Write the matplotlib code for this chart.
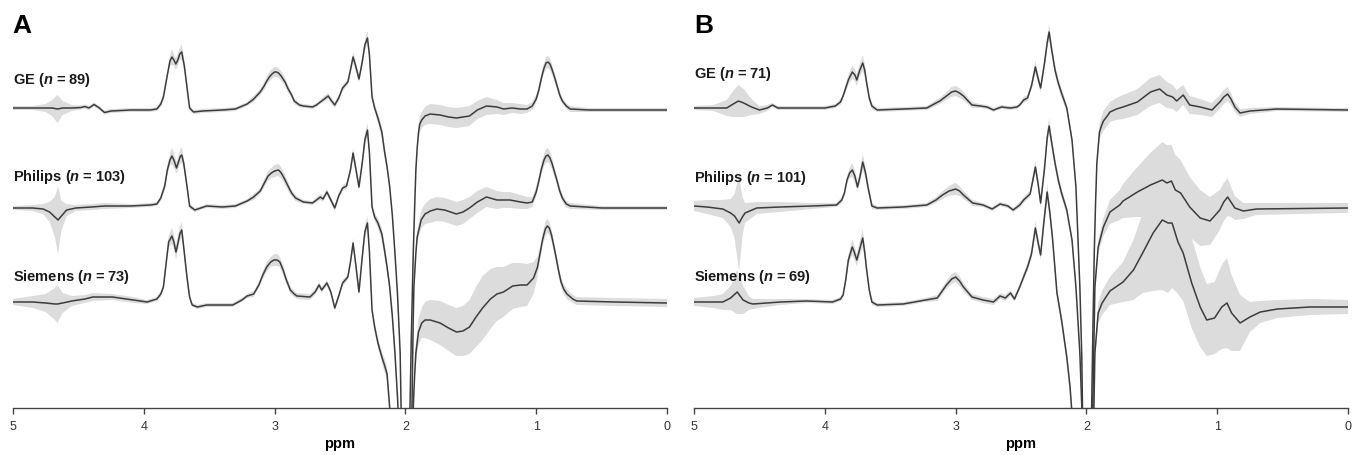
"""
Mean MR difference spectra (+/- SD band) per scanner vendor, two panels.

Values are in pixel-like units read off the reference figure: ppm on x,
signal height above each trace's own baseline on y, plus the SD half-width.
"""

import numpy as np
import matplotlib.pyplot as plt

plt.rcParams['font.family'] = ['Liberation Sans', 'DejaVu Sans']
plt.rcParams['mathtext.fontset'] = 'custom'
plt.rcParams['mathtext.it'] = 'Liberation Sans:italic:bold'
plt.rcParams['mathtext.rm'] = 'Liberation Sans:bold'


# ============================================================================
# DATA  (ppm, mean, sd)
# ============================================================================

GE_A = [
    (5.00, 1, 2), (4.85, 1, 2), (4.75, 1, 4), (4.70, 1, 8), (4.66, 0, 14), (4.62, 1, 7),
    (4.55, 1, 3), (4.48, 1.5, 2), (4.45, 2.5, 2), (4.42, 1, 2), (4.38, 4.5, 2), (4.34, 1, 2),
    (4.30, -3.5, 2), (4.25, -2, 2), (4.10, -1, 2), (3.95, -1, 2), (3.90, 0, 2), (3.87, 5, 3),
    (3.85, 12, 3), (3.82, 34, 4), (3.80, 48, 5), (3.785, 52, 8), (3.77, 49, 6), (3.755, 45, 6),
    (3.74, 49, 6), (3.725, 55, 6), (3.71, 57, 8), (3.69, 43, 5), (3.67, 22, 4), (3.65, 1, 3),
    (3.62, -3, 2), (3.55, -2, 2), (3.40, -1, 2), (3.30, 0, 2), (3.21, 5, 2), (3.16, 10, 3),
    (3.11, 17, 3), (3.08, 23, 4), (3.06, 28, 4), (3.04, 32, 5), (3.02, 35, 5), (3.00, 37, 5),
    (2.985, 37, 5), (2.97, 36, 5), (2.95, 33, 5),
    (2.92, 27, 4), (2.90, 21, 4), (2.87, 14, 3), (2.85, 8, 3), (2.81, 4, 2), (2.78, 3, 2),
    (2.71, 2, 2), (2.68, 4, 2), (2.65, 7, 2), (2.62, 10, 3), (2.59, 13, 3), (2.57, 9, 3),
    (2.54, 4, 3), (2.51, 11, 3), (2.48, 21, 3), (2.44, 27, 3), (2.42, 39, 4), (2.40, 52, 5),
    (2.38, 43, 5), (2.355, 30, 4), (2.33, 47, 5), (2.31, 64, 6), (2.29, 71, 6), (2.275, 54, 5),
    (2.255, 12, 4), (2.235, 1, 4), (2.21, -9, 5), (2.18, -23, 6), (2.16, -42, 6), (2.14, -58, 5),
    (2.12, -78, 4), (2.10, -106, 4), (2.08, -144, 4), (2.06, -186, 4), (2.04, -244, 4),
    (2.02, -400, 4), (2.00, -700, 4), (1.98, -400, 4), (1.965, -299, 4), (1.955, -230, 4),
    (1.94, -144, 4), (1.93, -101, 4), (1.92, -61, 5), (1.91, -39, 6), (1.90, -24, 7),
    (1.89, -15, 8), (1.875, -11, 8), (1.85, -7, 9), (1.81, -5, 10), (1.735, -6, 10),
    (1.67, -8, 10), (1.61, -9, 10), (1.56, -8, 10), (1.51, -7, 10), (1.45, -1, 9), (1.38, 3, 9),
    (1.30, 2, 7), (1.25, 0, 6), (1.185, 1, 5), (1.12, 0, 5), (1.07, 0, 4), (1.03, 3, 4),
    (1.00, 10, 4), (0.98, 19, 4), (0.96, 31, 5), (0.94, 41, 5), (0.925, 46, 6), (0.91, 47, 6),
    (0.895, 45, 6), (0.88, 40, 5), (0.86, 32, 5), (0.84, 23, 4), (0.82, 14, 4), (0.80, 8, 3),
    (0.77, 3, 3), (0.74, 0, 3), (0.60, -1, 2), (0.30, -1, 2), (0.00, -1, 2),
]

PHILIPS_A = [
    (5.00, 0, 2), (4.85, 0, 3), (4.77, -1, 5), (4.72, -4, 10), (4.68, -9, 20), (4.655, -12, 34),
    (4.63, -8, 15), (4.59, -2, 6), (4.52, 0, 3), (4.40, 1, 3), (4.30, 2, 3), (4.10, 2, 2),
    (3.95, 3, 2), (3.90, 4, 2), (3.87, 10, 3), (3.84, 22, 4), (3.82, 38, 5), (3.80, 48, 6),
    (3.785, 52, 8), (3.77, 48, 7), (3.75, 40, 6), (3.735, 46, 6), (3.72, 52, 7), (3.71, 53, 8),
    (3.695, 45, 6), (3.67, 22, 4), (3.65, 2, 3), (3.61, -2, 2), (3.52, 2, 2), (3.40, 1, 2),
    (3.30, 2, 2), (3.21, 7, 2), (3.16, 11, 3), (3.11, 17, 3), (3.09, 22, 4), (3.07, 27, 4),
    (3.05, 32, 5), (3.025, 35, 5), (3.00, 37, 6), (2.97, 38, 6), (2.955, 36, 6), (2.94, 33, 5),
    (2.92, 28, 5), (2.89, 20, 4), (2.87, 15, 3),
    (2.84, 10, 3), (2.78, 6, 2), (2.71, 5, 2), (2.65, 11, 3), (2.63, 9, 3), (2.60, 16, 3),
    (2.57, 8, 3), (2.54, 0, 3), (2.51, 12, 3), (2.48, 20, 3), (2.45, 22, 3), (2.42, 38, 4),
    (2.40, 55, 5), (2.38, 40, 5), (2.355, 21, 4), (2.33, 45, 5), (2.31, 68, 6), (2.29, 78, 7),
    (2.275, 55, 5), (2.255, 1, 4), (2.235, -9, 4), (2.21, -15, 5), (2.18, -26, 6), (2.16, -42, 7),
    (2.14, -59, 6), (2.12, -79, 5), (2.10, -108, 4), (2.08, -145, 4), (2.06, -190, 4),
    (2.04, -250, 4), (2.02, -400, 4), (2.00, -700, 4), (1.98, -400, 4), (1.96, -250, 4),
    (1.95, -200, 4), (1.94, -110, 4), (1.935, -79, 4), (1.92, -45, 5), (1.91, -29, 6),
    (1.89, -18, 8), (1.88, -12, 9), (1.85, -6, 10), (1.81, -3, 12), (1.76, -1, 12),
    (1.70, -2, 12), (1.61, -6, 12), (1.56, -4, 12), (1.51, 0, 11), (1.45, 6, 11), (1.38, 11, 10),
    (1.30, 8, 9), (1.25, 8, 8), (1.20, 8, 8), (1.12, 6, 7), (1.07, 5, 6), (1.03, 6, 5),
    (1.00, 16, 5), (0.98, 27, 5), (0.96, 39, 6), (0.94, 48, 6), (0.925, 52, 7), (0.91, 53, 7),
    (0.895, 50, 7), (0.88, 45, 6), (0.86, 36, 5), (0.84, 27, 5), (0.82, 17, 4), (0.80, 10, 4),
    (0.77, 4, 3), (0.74, 2, 3), (0.50, 0, 2), (0.00, 0, 2),
]

SIEMENS_A = [
    (5.00, 0, 3), (4.85, 0, 6), (4.75, -1, 9), (4.68, -2, 16), (4.66, -2, 19), (4.62, -1, 10),
    (4.55, 1, 5), (4.45, 3, 4), (4.39, 5, 4), (4.24, 5, 3), (4.08, 2, 3), (3.975, 0, 2),
    (3.90, 3, 2), (3.87, 8, 3), (3.85, 15, 3), (3.83, 38, 5), (3.81, 60, 6), (3.785, 66, 8),
    (3.77, 60, 7), (3.754, 50, 7), (3.74, 58, 7), (3.725, 68, 7), (3.71, 72, 8), (3.695, 55, 6),
    (3.67, 25, 4), (3.65, 5, 3), (3.63, -3, 2), (3.59, -5, 2), (3.52, -3, 2), (3.40, -3, 2),
    (3.32, -3, 2), (3.25, 2, 2), (3.21, 6, 2), (3.16, 8, 3), (3.12, 17, 3), (3.09, 27, 4),
    (3.06, 35, 5), (3.03, 40, 5), (3.005, 42, 6), (2.98, 42, 6), (2.96, 40, 5), (2.95, 37, 5),
    (2.935, 32, 5), (2.91, 22, 4),
    (2.88, 12, 4), (2.85, 8, 3), (2.83, 6, 3), (2.73, 5, 3), (2.69, 10, 3), (2.66, 17, 3),
    (2.64, 12, 3), (2.60, 19, 3), (2.57, 10, 3), (2.54, -6, 3), (2.51, 6, 3), (2.48, 19, 3),
    (2.44, 25, 3), (2.42, 40, 4), (2.40, 59, 5), (2.38, 38, 5), (2.355, 10, 4), (2.33, 45, 5),
    (2.31, 70, 6), (2.29, 79, 7), (2.275, 50, 5), (2.255, -8, 4), (2.235, -25, 4), (2.21, -41, 5),
    (2.18, -55, 6), (2.16, -63, 7), (2.14, -72, 7), (2.12, -106, 6), (2.10, -150, 5),
    (2.05, -300, 4), (2.00, -700, 4), (1.97, -300, 4), (1.95, -160, 5), (1.94, -106, 6),
    (1.93, -75, 8), (1.92, -51, 10), (1.90, -30, 13), (1.875, -21, 15), (1.85, -18, 18),
    (1.81, -18, 20), (1.735, -21, 22), (1.67, -26, 23), (1.61, -30, 24), (1.56, -29, 25),
    (1.51, -25, 27), (1.46, -15, 30), (1.41, -6, 32), (1.35, 3, 30), (1.30, 8, 27), (1.25, 10, 25),
    (1.18, 16, 23), (1.12, 17, 22), (1.07, 17, 21), (1.02, 24, 16), (0.99, 35, 10), (0.97, 49, 7),
    (0.95, 63, 6), (0.93, 73, 7), (0.915, 76, 7), (0.90, 74, 7), (0.885, 68, 6), (0.87, 59, 6),
    (0.85, 46, 5), (0.83, 32, 5), (0.81, 20, 5), (0.79, 13, 5), (0.765, 8, 5), (0.72, 3, 4),
    (0.69, 1, 4), (0.40, 0, 4), (0.00, -1, 4),
]

GE_B = [
    (5.00, 0, 2), (4.85, 0, 3), (4.75, 0, 8), (4.70, 4, 13), (4.66, 7, 16), (4.62, 5, 14),
    (4.56, 1, 8), (4.50, -2, 4), (4.44, 0, 3), (4.40, 3, 2), (4.36, 0, 2), (4.20, 0, 2),
    (4.00, 0, 2), (3.92, 2, 2), (3.88, 6, 3), (3.86, 12, 3), (3.84, 20, 4), (3.82, 28, 5),
    (3.79, 36, 7), (3.77, 33, 6), (3.755, 28, 6), (3.735, 37, 6), (3.71, 45, 8), (3.695, 38, 6),
    (3.68, 25, 5), (3.66, 10, 4), (3.64, 2, 3), (3.60, -2, 2), (3.40, -1, 2), (3.22, 0, 2),
    (3.15, 5, 3), (3.12, 7, 3), (3.06, 13, 4), (3.03, 16, 5), (3.00, 17, 5), (2.97, 15, 5),
    (2.94, 12, 4), (2.875, 3, 3),
    (2.81, 2, 2), (2.76, 1, 2), (2.71, -2, 2), (2.65, 1, 2), (2.58, 0, 2), (2.53, 1, 2),
    (2.51, 3, 2), (2.48, 8, 3), (2.45, 10, 3), (2.42, 22, 4), (2.39, 41, 6), (2.37, 30, 5),
    (2.35, 20, 4), (2.32, 45, 5), (2.30, 65, 6), (2.285, 76, 8), (2.265, 58, 6), (2.24, 38, 5),
    (2.215, 25, 5), (2.19, 15, 5), (2.15, 0, 4), (2.11, -32, 4), (2.08, -79, 4), (2.05, -179, 4),
    (2.035, -250, 4), (2.02, -400, 4), (2.00, -700, 4), (1.98, -400, 4), (1.96, -300, 4),
    (1.95, -220, 4), (1.94, -145, 4), (1.93, -95, 5), (1.92, -55, 6), (1.90, -24, 8),
    (1.885, -18, 9), (1.87, -13, 10), (1.84, -8, 10), (1.82, -4, 10), (1.77, -1, 11),
    (1.72, 1, 12), (1.61, 6, 13), (1.51, 16, 14), (1.44, 19, 14), (1.385, 13, 13), (1.34, 11, 12),
    (1.31, 7, 11), (1.26, 13, 10), (1.21, 3, 9), (1.13, 1, 8), (1.04, -2, 7), (0.98, 6, 7),
    (0.95, 11, 7), (0.92, 14, 7), (0.895, 9, 6), (0.865, 1, 5), (0.825, -5, 4), (0.75, -3, 3),
    (0.545, -1, 2), (0.00, -2, 2),
]

PHILIPS_B = [
    (5.00, 2, 5), (4.90, 1, 7), (4.78, -1, 9), (4.72, -5, 14), (4.69, -8, 22), (4.655, -15, 48),
    (4.63, -9, 20), (4.61, -5, 10), (4.52, 0, 6), (4.34, 1, 5), (4.10, 2, 3), (3.91, 3, 2),
    (3.87, 8, 3), (3.85, 15, 3), (3.83, 28, 4), (3.81, 35, 5), (3.79, 38, 7), (3.77, 32, 6),
    (3.75, 21, 5), (3.73, 32, 6), (3.71, 46, 8), (3.69, 36, 6), (3.67, 21, 5), (3.64, 2, 3),
    (3.60, 0, 2), (3.40, 1, 2), (3.22, 3, 2), (3.15, 8, 3), (3.10, 13, 4), (3.05, 17, 5),
    (3.00, 19, 6), (2.97, 17, 5),
    (2.94, 13, 4), (2.87, 5, 3), (2.79, 3, 2), (2.72, -1, 2), (2.66, 4, 2), (2.60, 2, 2),
    (2.56, -2, 2), (2.51, 3, 3), (2.48, 8, 3), (2.43, 14, 3), (2.39, 41, 6), (2.37, 25, 5),
    (2.35, 5, 4), (2.32, 40, 5), (2.30, 70, 7), (2.285, 82, 8), (2.265, 65, 6), (2.24, 45, 5),
    (2.215, 28, 5), (2.19, 15, 5), (2.15, -2, 4), (2.11, -32, 4), (2.08, -79, 4), (2.05, -145, 4),
    (2.035, -200, 4), (2.02, -400, 4), (2.00, -700, 4), (1.97, -400, 4), (1.95, -190, 4),
    (1.935, -79, 5), (1.91, -39, 7), (1.87, -19, 9), (1.82, -4, 12), (1.745, 3, 15),
    (1.72, 7, 17), (1.61, 16, 25), (1.51, 23, 32), (1.42, 28, 38), (1.385, 25, 38), (1.35, 27, 36),
    (1.32, 18, 35), (1.28, 15, 33), (1.21, 1, 30), (1.13, -10, 28), (1.055, -13, 24),
    (0.98, -2, 20), (0.95, 6, 19), (0.92, 11, 19), (0.895, 6, 15), (0.865, 0, 12), (0.80, -3, 8),
    (0.70, -1, 6), (0.00, 0, 5),
]

SIEMENS_B = [
    (5.00, 0, 4), (4.85, 0, 6), (4.78, 0, 8), (4.72, 4, 12), (4.67, 10, 22), (4.625, 2, 14),
    (4.58, -1, 7), (4.55, -2, 5), (4.34, 0, 3), (4.14, 1, 2), (3.94, 0, 2), (3.88, 3, 2),
    (3.86, 7, 3), (3.84, 22, 4), (3.82, 42, 5), (3.79, 55, 8), (3.775, 50, 7), (3.755, 42, 6),
    (3.735, 52, 7), (3.71, 64, 9), (3.695, 50, 7), (3.68, 32, 5), (3.66, 12, 4), (3.64, 0, 3),
    (3.60, -3, 2), (3.40, -2, 2), (3.23, 2, 2), (3.14, 4, 3), (3.07, 17, 4), (3.03, 23, 5),
    (3.00, 25, 5), (2.97, 21, 5),
    (2.94, 15, 4), (2.875, 5, 3), (2.79, 2, 3), (2.71, 0, 3), (2.66, 6, 3), (2.62, 4, 3),
    (2.58, 9, 3), (2.55, 3, 3), (2.51, 15, 3), (2.45, 35, 4), (2.42, 48, 5), (2.39, 74, 7),
    (2.37, 60, 6), (2.35, 47, 5), (2.325, 80, 6), (2.30, 110, 8), (2.28, 90, 7), (2.26, 65, 6),
    (2.225, 9, 5), (2.19, -18, 5), (2.15, -55, 6), (2.125, -85, 7), (2.10, -130, 6),
    (2.05, -300, 4), (2.00, -700, 4), (1.96, -300, 4), (1.95, -160, 5), (1.935, -51, 8),
    (1.91, -11, 10), (1.88, -1, 12), (1.82, 11, 14), (1.72, 20, 20), (1.64, 32, 30),
    (1.57, 49, 40), (1.49, 69, 58), (1.42, 82, 70), (1.375, 79, 70), (1.345, 79, 65),
    (1.30, 60, 52), (1.26, 49, 48), (1.195, 19, 45), (1.13, -5, 40), (1.08, -18, 36),
    (1.02, -16, 36), (0.965, -5, 42), (0.925, -1, 45), (0.89, -11, 38), (0.825, -21, 28),
    (0.75, -15, 15), (0.67, -10, 11), (0.54, -7, 9), (0.29, -5, 8), (0.00, -5, 7),
]

NAMES_A = ["GE ($n$ = 89)", "Philips ($n$ = 103)", "Siemens ($n$ = 73)"]
NAMES_B = ["GE ($n$ = 71)", "Philips ($n$ = 101)", "Siemens ($n$ = 69)"]
TICKS = [5, 4, 3, 2, 1, 0]


# ============================================================================
# LAYOUT / STYLE
# ============================================================================

W, H = 1361, 455
AX_BOTTOM_PX = 408                     # axis line, pixels from top
OFFSETS_A = [109, 208, 302]            # baseline rows of the three traces
OFFSETS_B = [108, 208, 302]
LABEL_Y_A = [80, 177, 277]
LABEL_Y_B = [74, 178, 277]
LINE = "#3c3c3c"
BAND = "#dcdcdc"


def draw_panel(ax, spectra, names, offsets, label_rows):
    for rows, name, off, ly in zip(spectra, names, offsets, label_rows):
        ppm, val, sd = np.array(rows, dtype=float).T
        y = val - off
        ax.fill_between(ppm, y - sd, y + sd, color=BAND, lw=0, zorder=1)
        ax.plot(ppm, y, color=LINE, lw=1.1, zorder=2, solid_joinstyle="round")
        ax.text(5.0, -ly, name, ha="left", va="center", fontsize=10.5,
                fontweight="bold", color="#1a1a1a", zorder=3)

    ax.set_xlim(5, 0)
    ax.set_ylim(-AX_BOTTOM_PX, 0)
    for side in ("top", "left", "right"):
        ax.spines[side].set_visible(False)
    ax.spines["bottom"].set_color("#444444")
    ax.spines["bottom"].set_linewidth(1.0)
    ax.set_yticks([])
    ax.set_xticks(TICKS)
    ax.set_xticklabels([str(t) for t in TICKS])
    ax.tick_params(axis="x", direction="out", length=4.5, width=1.0, color="#444444",
                   labelsize=9, labelcolor="#333333", pad=4.5)
    ax.set_xlabel("ppm", fontsize=10.5, fontweight="bold", labelpad=3)
    ax.patch.set_alpha(0)


fig = plt.figure(figsize=(W / 100, H / 100), dpi=100)
bottom = (H - AX_BOTTOM_PX) / H
height = AX_BOTTOM_PX / H
ax_a = fig.add_axes([13 / W, bottom, 654 / W, height])
ax_b = fig.add_axes([694 / W, bottom, 654 / W, height])

draw_panel(ax_a, [GE_A, PHILIPS_A, SIEMENS_A], NAMES_A, OFFSETS_A, LABEL_Y_A)
draw_panel(ax_b, [GE_B, PHILIPS_B, SIEMENS_B], NAMES_B, OFFSETS_B, LABEL_Y_B)

fig.text(12 / W, 1 - 33 / H, "A", fontsize=19, fontweight="bold", va="baseline")
fig.text(694 / W, 1 - 33 / H, "B", fontsize=19, fontweight="bold", va="baseline")

fig.savefig("out.png", dpi=100)
